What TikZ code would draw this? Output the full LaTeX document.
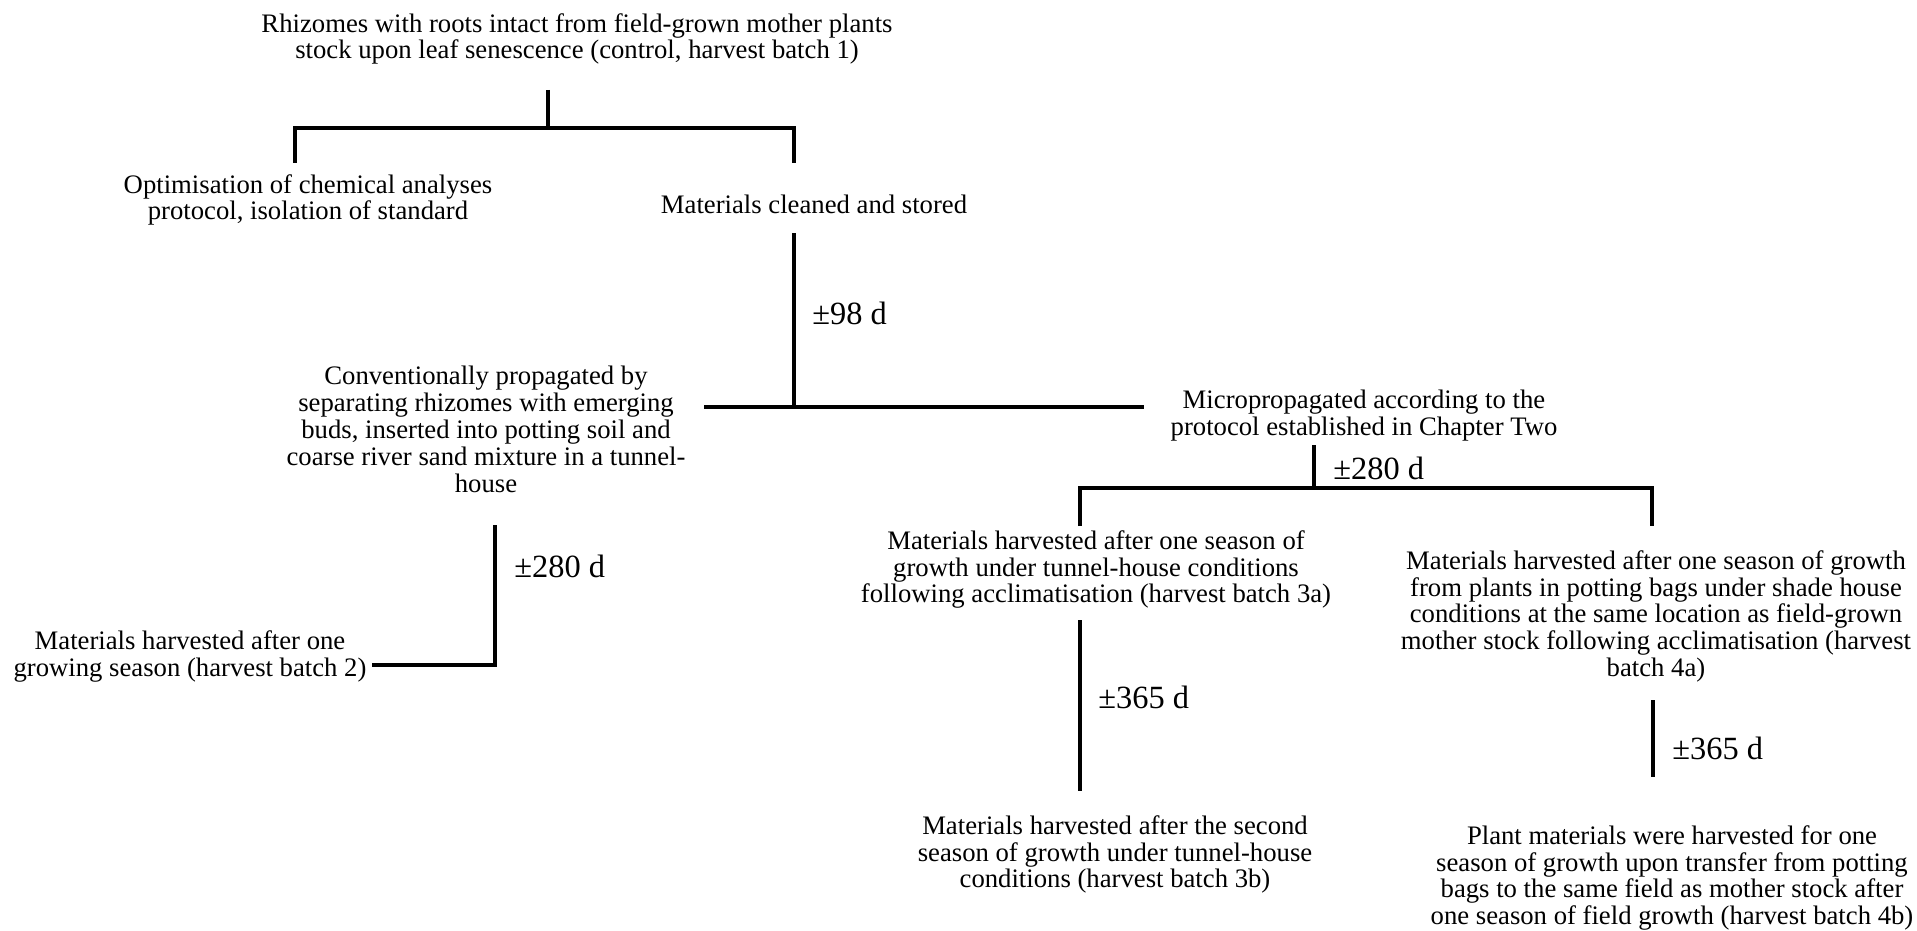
\documentclass[tikz,border=0pt]{standalone}
\usepackage{fontspec}
\setmainfont{Liberation Serif}
\usetikzlibrary{positioning}
\usetikzlibrary{calc}

\begin{document}
\begin{tikzpicture}[x=0.5pt, y=-0.5pt, every node/.style={inner sep=0pt, align=center, anchor=north, font=\fontsize{13.35}{13.4}\selectfont}, days/.style={anchor=west, font=\fontsize{16.2}{19}\selectfont}, branch/.style={line width=1.8pt}]
        % Fix the size of the page
        \useasboundingbox (0,0) rectangle (1917,931);

        % Draw the starting material and the first split
        \node (r) at (577,13) {Rhizomes with roots intact from field-grown mother plants\\stock upon leaf senescence (control, harvest batch 1)};
        \node (opt) at (308,174) {Optimisation of chemical analyses\\protocol, isolation of standard};
        \node (cln) at (814,195) {Materials cleaned and stored};

        \coordinate (a0) at (548,90);
        \coordinate (a1) at (548,128);
        \coordinate (aL) at (295,163);
        \coordinate (aR) at (794,163);
        \draw[branch] (a0) -- (a1);
        \draw[branch] (aL) -- (aL |- a1) -- (aR |- a1) -- (aR);

        % Storage, then the two ways of propagation
        \coordinate (b0) at (794,233);
        \coordinate (b1) at (794,407);
        \coordinate (bL) at (704,407);
        \coordinate (bR) at (1144,407);
        \draw[branch] (b0) -- (b1);
        \draw[branch] (bL) -- (bR);
        \node[days] (t1) at (812,313) {±98 d};

        \node (conv) at (486,366) {Conventionally propagated by\\separating rhizomes with emerging\\buds, inserted into potting soil and\\coarse river sand mixture in a tunnel-\\house};
        \node (micro) at (1364,390) {Micropropagated according to the\\protocol established in Chapter Two};

        % Conventional branch
        \coordinate (d0) at (495,525);
        \coordinate (d1) at (495,665);
        \coordinate (dL) at (372,665);
        \draw[branch] (d0) -- (d1) -- (dL);
        \node[days] (t3) at (514,566) {±280 d};
        \node (h2) at (190,630) {Materials harvested after one\\growing season (harvest batch 2)};

        % Micropropagated branch
        \coordinate (c0) at (1314,445);
        \coordinate (c1) at (1314,488);
        \coordinate (cL) at (1080,526);
        \coordinate (cR) at (1652,526);
        \draw[branch] (c0) -- (c1);
        \draw[branch] (cL) -- (cL |- c1) -- (cR |- c1) -- (cR);
        \node[days] (t2) at (1333,468) {±280 d};

        \node (h3a) at (1096,530) {Materials harvested after one season of\\growth under tunnel-house conditions\\following acclimatisation (harvest batch 3a)};
        \node (h4a) at (1656,550) {Materials harvested after one season of growth\\from plants in potting bags under shade house\\conditions at the same location as field-grown\\mother stock following acclimatisation (harvest\\batch 4a)};

        % Second harvests
        \coordinate (e0) at (1080,620);
        \coordinate (e1) at (1080,791);
        \draw[branch] (e0) -- (e1);
        \node[days] (t4) at (1098,697) {±365 d};
        \node (h3b) at (1115,815) {Materials harvested after the second\\season of growth under tunnel-house\\conditions (harvest batch 3b)};

        \coordinate (f0) at (1653,700);
        \coordinate (f1) at (1653,777);
        \draw[branch] (f0) -- (f1);
        \node[days] (t5) at (1672,748) {±365 d};
        \node (h4b) at (1672,825) {Plant materials were harvested for one\\season of growth upon transfer from potting\\bags to the same field as mother stock after\\one season of field growth (harvest batch 4b)};
      \end{tikzpicture}
\end{document}
